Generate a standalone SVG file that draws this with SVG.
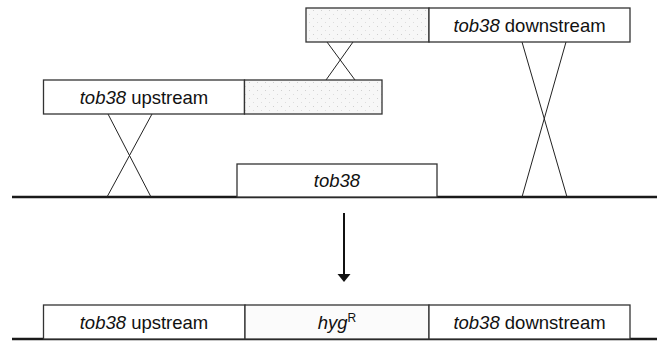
<svg xmlns="http://www.w3.org/2000/svg" width="657" height="341" viewBox="0 0 657 341">
  <defs>
    <pattern id="stipple" width="8" height="8" patternUnits="userSpaceOnUse">
      <rect width="8" height="8" fill="#f7f7f7"/>
      <rect x="1" y="2" width="1" height="1" fill="#d0d0d0"/>
      <rect x="5" y="6" width="1" height="1" fill="#dddddd"/>
    </pattern>
  </defs>
  <style>
    .box { fill: #ffffff; stroke: #333333; stroke-width: 1.3; }
    .gray { fill: url(#stipple); stroke: #333333; stroke-width: 1.3; }
    .lbl { font-family: "Liberation Sans", Arial, sans-serif; font-size: 18.5px; fill: #111111; text-anchor: middle; }
    .it { font-style: italic; }
    .cross { stroke: #222222; stroke-width: 1; fill: none; }
    .chrom { stroke: #1a1a1a; stroke-width: 2.6; fill: none; }
  </style>

  <g id="chromosome-top">
    <line class="chrom" x1="12" y1="197" x2="657" y2="197"/>
  </g>
  <g id="chromosome-bottom">
    <line class="chrom" x1="12" y1="339" x2="657" y2="339"/>
  </g>

  <g id="connectors">
    <line class="cross" x1="327" y1="42" x2="355" y2="80"/>
    <line class="cross" x1="353" y1="42" x2="326" y2="80"/>
    <line class="cross" x1="108" y1="114" x2="151" y2="197"/>
    <line class="cross" x1="152" y1="114" x2="107" y2="197"/>
    <line class="cross" x1="522" y1="42" x2="567" y2="197"/>
    <line class="cross" x1="566" y1="42" x2="522" y2="197"/>
    <line x1="344" y1="213" x2="344" y2="275" stroke="#111" stroke-width="2"/>
    <path d="M337.5,274 L350.5,274 L344,282 Z" fill="#111"/>
  </g>

  <g id="donor-top">
    <rect class="gray" x="306" y="8" width="123" height="34"/>
    <rect class="box" x="429" y="8" width="201" height="34"/>
    <text class="lbl" x="529.5" y="31.5"><tspan class="it">tob38</tspan> downstream</text>
  </g>

  <g id="donor-upstream">
    <rect class="box" x="43.5" y="80" width="201" height="34"/>
    <rect class="gray" x="244.5" y="80" width="137.5" height="34"/>
    <text class="lbl" x="144" y="103.5"><tspan class="it">tob38</tspan> upstream</text>
  </g>

  <g id="gene-tob38">
    <rect class="box" x="237" y="164" width="200" height="33"/>
    <text class="lbl it" x="337" y="187">tob38</text>
  </g>

  <g id="result-upstream">
    <rect class="box" x="43.5" y="305" width="201.5" height="34"/>
    <text class="lbl" x="144" y="328.5"><tspan class="it">tob38</tspan> upstream</text>
  </g>
  <g id="result-hygR">
    <rect class="box" x="245" y="305" width="184" height="34" style="fill:#fbfbfb"/>
    <text class="lbl" x="337" y="328.5"><tspan class="it">hyg</tspan><tspan font-size="12" dy="-7">R</tspan></text>
  </g>
  <g id="result-downstream">
    <rect class="box" x="429" y="305" width="201" height="34"/>
    <text class="lbl" x="529.5" y="328.5"><tspan class="it">tob38</tspan> downstream</text>
  </g>
</svg>
